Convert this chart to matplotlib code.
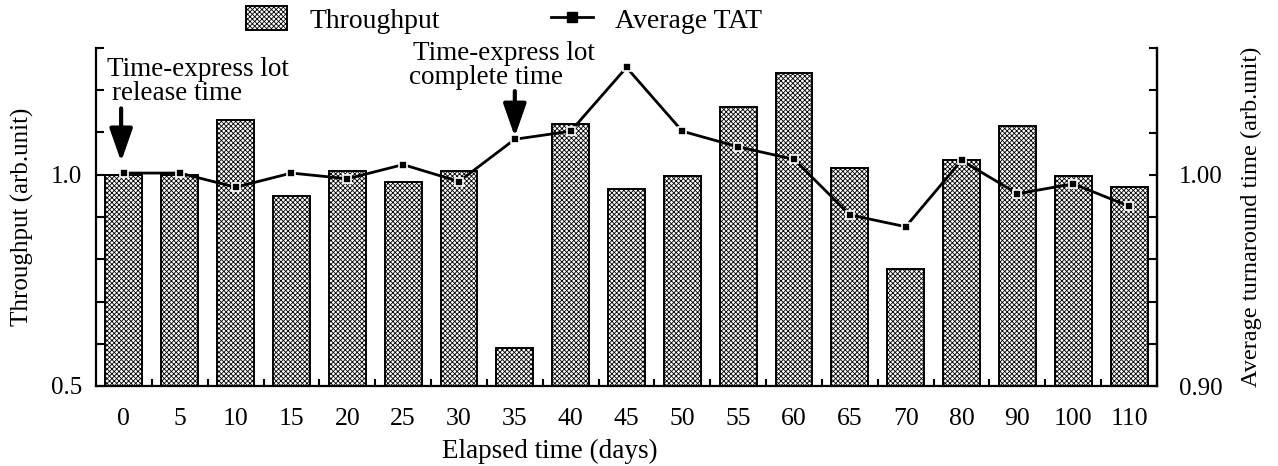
import matplotlib
matplotlib.use("Agg")
import matplotlib.pyplot as plt
import numpy as np
from matplotlib.lines import Line2D
from matplotlib.patches import Patch
from matplotlib.ticker import MultipleLocator, FixedLocator

plt.rcParams['font.family'] = ['Liberation Serif', 'DejaVu Serif']
plt.rcParams['hatch.linewidth'] = 0.6

days = ['0', '5', '10', '15', '20', '25', '30', '35', '40', '45', '50', '55',
        '60', '65', '70', '80', '90', '100', '110']
throughput = [1.000, 1.000, 1.129, 0.949, 1.009, 0.983, 1.008, 0.590, 1.120,
              0.967, 0.996, 1.160, 1.240, 1.017, 0.776, 1.034, 1.115, 0.996, 0.972]
avg_tat = [1.0008, 1.0008, 0.9941, 1.0008, 0.9981, 1.0048, 0.9968, 1.0168,
           1.0206, 1.0508, 1.0206, 1.0132, 1.0073, 0.9810, 0.9754, 1.0068,
           0.9910, 0.9957, 0.9851]

W, H = 1278, 466
fig = plt.figure(figsize=(W / 100, H / 100), dpi=100)
L, R, B, T = 96, 1157, 386, 48
ax = fig.add_axes([L / W, 1 - B / H, (R - L) / W, (B - T) / H])

x = np.arange(len(days))
ax.bar(x, throughput, width=0.66, bottom=0, color='white', edgecolor='black',
       hatch='xxxxxxx', linewidth=1.4, zorder=2)
ax.set_xlim(-0.5, len(days) - 0.5)
ax.set_ylim(0.5, 1.3)
ax.yaxis.set_major_locator(FixedLocator([0.5, 1.0]))
ax.yaxis.set_minor_locator(MultipleLocator(0.1))
ax.set_yticklabels(['0.5', '1.0'])
ax.set_xticks(x)
ax.set_xticklabels(days)
ax.xaxis.set_minor_locator(FixedLocator(np.arange(0.5, len(days) - 1, 1.0)))
ax.tick_params(axis='x', which='major', length=0, pad=16, labelsize=18.5)
ax.tick_params(axis='x', which='minor', direction='in', length=5, width=1.5)
ax.tick_params(axis='y', which='both', direction='in', length=6, width=1.5,
               labelsize=18, pad=10)
for s in ['left', 'bottom', 'right']:
    ax.spines[s].set_linewidth(1.6)
ax.spines['top'].set_visible(False)
ax.set_ylabel('Throughput (arb.unit)', fontsize=18, labelpad=12)
ax.set_xlabel('Elapsed time (days)', fontsize=19.5, labelpad=6, x=0.428)

ax2 = ax.twinx()
ax2.set_ylim(0.90, 1.06)
ax2.yaxis.set_major_locator(FixedLocator([0.90, 1.00]))
ax2.yaxis.set_minor_locator(MultipleLocator(0.02))
ax2.set_yticklabels(['0.90', '1.00'])
ax2.tick_params(axis='y', which='both', direction='in', length=6, width=1.5,
                labelsize=18, pad=16)
ax2.spines['top'].set_visible(False)
ax2.spines['right'].set_linewidth(1.6)
ax2.spines['left'].set_visible(False)
ax2.spines['bottom'].set_visible(False)
ax2.plot(x, avg_tat, color='black', lw=2.0, marker='s', markersize=5.5,
         markerfacecolor='black', markeredgecolor='white', markeredgewidth=1.2,
         zorder=3)
ax2.set_ylabel('Average turnaround time (arb.unit)', fontsize=17.5, labelpad=13)

# annotations (left-axis data coords)
fs = 19.5
ax.text(-0.303, 1.233, 'Time-express lot', fontsize=fs, clip_on=False)
ax.text(-0.213, 1.176, 'release time', fontsize=fs, clip_on=False)
ax.text(5.177, 1.271, 'Time-express lot', fontsize=fs, clip_on=False)
ax.text(5.105, 1.214, 'complete time', fontsize=fs, clip_on=False)
arrow = dict(arrowstyle='-|>,head_width=0.35,head_length=1.0', lw=3,
             color='black', mutation_scale=20, shrinkA=0, shrinkB=0)
ax.annotate('', xy=(-0.05, 1.031), xytext=(-0.05, 1.157), arrowprops=arrow)
ax.annotate('', xy=(7.0, 1.090), xytext=(7.0, 1.198), arrowprops=arrow)

handles = [Patch(facecolor='white', edgecolor='black', hatch='xxxxxxx', lw=1.4),
           Line2D([0], [0], color='black', lw=2, marker='s', markersize=7,
                  markerfacecolor='black', markeredgecolor='black')]
fig.legend(handles, ['Throughput', 'Average TAT'], ncol=2, loc='center',
           bbox_to_anchor=(504 / W, 1 - 20 / H), frameon=False, fontsize=20,
           handlelength=1.5, handleheight=0.9, handletextpad=0.8,
           columnspacing=4.0)

fig.savefig('out.png', dpi=100)
